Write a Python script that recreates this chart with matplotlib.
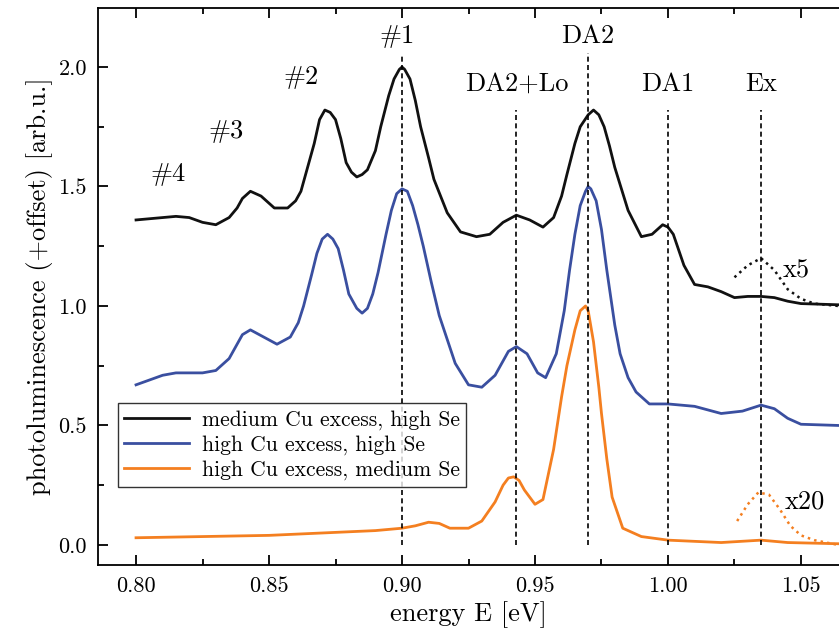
import matplotlib
matplotlib.use("Agg")
import matplotlib.pyplot as plt
from matplotlib.ticker import MultipleLocator

plt.rcParams['font.family'] = 'serif'
plt.rcParams['font.serif'] = ['cmr10', 'DejaVu Serif']
plt.rcParams['axes.formatter.use_mathtext'] = True
plt.rcParams['mathtext.fontset'] = 'cm'

black_x = [0.80,0.81,0.815,0.82,0.825,0.83,0.835,0.838,0.84,0.843,0.847,0.850,0.852,0.857,0.860,0.862,0.865,0.867,0.869,0.871,0.873,0.875,0.877,0.879,0.881,0.883,0.885,0.887,0.890,0.892,0.895,0.897,0.899,0.900,0.901,0.903,0.905,0.907,0.910,0.912,0.917,0.922,0.928,0.933,0.938,0.943,0.948,0.953,0.957,0.960,0.962,0.965,0.967,0.970,0.972,0.974,0.976,0.978,0.980,0.985,0.990,0.994,0.998,1.000,1.002,1.006,1.010,1.015,1.020,1.025,1.030,1.035,1.040,1.045,1.050,1.064]
black_y = [1.36,1.37,1.375,1.37,1.35,1.34,1.37,1.41,1.45,1.48,1.46,1.43,1.41,1.41,1.44,1.48,1.60,1.68,1.78,1.82,1.81,1.78,1.70,1.60,1.56,1.54,1.55,1.57,1.65,1.75,1.88,1.95,1.99,2.00,1.99,1.95,1.86,1.75,1.62,1.53,1.39,1.31,1.29,1.30,1.35,1.38,1.36,1.33,1.37,1.46,1.55,1.68,1.75,1.80,1.82,1.80,1.75,1.67,1.58,1.40,1.29,1.30,1.34,1.33,1.30,1.17,1.09,1.08,1.06,1.035,1.04,1.04,1.035,1.02,1.01,1.005]
black5_x = [1.025,1.030,1.035,1.040,1.045,1.050,1.055,1.064]
black5_y = [1.12,1.17,1.20,1.15,1.07,1.03,1.01,1.0]

blue_x = [0.80,0.805,0.81,0.815,0.825,0.83,0.835,0.84,0.843,0.848,0.853,0.858,0.861,0.863,0.866,0.868,0.870,0.872,0.874,0.876,0.878,0.880,0.883,0.885,0.887,0.889,0.891,0.894,0.896,0.898,0.900,0.902,0.904,0.906,0.908,0.911,0.914,0.920,0.925,0.930,0.935,0.940,0.943,0.947,0.951,0.954,0.958,0.961,0.963,0.965,0.967,0.969,0.970,0.971,0.973,0.975,0.977,0.980,0.982,0.985,0.988,0.993,1.000,1.010,1.020,1.028,1.035,1.040,1.045,1.050,1.064]
blue_y = [0.67,0.69,0.71,0.72,0.72,0.73,0.78,0.88,0.90,0.87,0.84,0.87,0.93,1.00,1.13,1.22,1.28,1.30,1.28,1.24,1.15,1.05,0.99,0.97,0.99,1.05,1.14,1.30,1.40,1.47,1.49,1.48,1.42,1.34,1.25,1.10,0.96,0.76,0.67,0.66,0.71,0.81,0.83,0.80,0.72,0.70,0.80,0.98,1.15,1.30,1.42,1.48,1.50,1.49,1.44,1.32,1.15,0.92,0.80,0.70,0.64,0.59,0.59,0.58,0.55,0.56,0.585,0.57,0.53,0.505,0.50]

orange_x = [0.80,0.85,0.87,0.89,0.90,0.905,0.910,0.914,0.918,0.925,0.930,0.935,0.938,0.940,0.942,0.944,0.946,0.950,0.953,0.957,0.960,0.962,0.965,0.967,0.969,0.970,0.972,0.974,0.975,0.977,0.979,0.983,0.990,1.000,1.020,1.035,1.045,1.064]
orange_y = [0.03,0.04,0.05,0.06,0.07,0.08,0.095,0.09,0.07,0.07,0.10,0.18,0.25,0.28,0.285,0.27,0.23,0.17,0.19,0.40,0.62,0.75,0.90,0.98,1.0,0.98,0.85,0.66,0.55,0.36,0.20,0.07,0.035,0.02,0.01,0.02,0.01,0.005]
orange20_x = [1.026,1.030,1.034,1.038,1.042,1.046,1.050,1.055,1.064]
orange20_y = [0.10,0.17,0.22,0.21,0.15,0.08,0.04,0.02,0.0]

line_x = [0.900,0.943,0.970,1.000,1.035]
line_top = [2.05,1.82,2.06,1.82,1.82]
peak_labels = ['#4','#3','#2','#1','DA2+Lo','DA2','DA1','Ex']
peak_lx = [0.812,0.834,0.862,0.898,0.943,0.970,1.000,1.035]
peak_ly = [1.50,1.68,1.91,2.08,1.88,2.08,1.88,1.88]

fig = plt.figure(figsize=(8.39,6.42), dpi=100)
ax = fig.add_axes([98/839, 77/642, 741/839, 557/642])
ax.plot(black_x, black_y, color='#111111', lw=2, label='medium Cu excess, high Se')
ax.plot(blue_x, blue_y, color='#3a4fa0', lw=2, label='high Cu excess, high Se')
ax.plot(orange_x, orange_y, color='#f47f20', lw=2, label='high Cu excess, medium Se')
ax.plot(black5_x, black5_y, color='#111111', lw=1.8, ls=':')
ax.plot(orange20_x, orange20_y, color='#f47f20', lw=1.8, ls=':')
for x, t in zip(line_x, line_top):
    ax.plot([x, x], [0, t], color='black', lw=1.2, ls=(0, (3, 2)))
for s, x, y in zip(peak_labels, peak_lx, peak_ly):
    ax.text(x, y, s, ha='center', va='bottom', fontsize=19)
ax.text(1.043, 1.10, 'x5', fontsize=19, va='bottom')
ax.text(1.044, 0.13, 'x20', fontsize=19, va='bottom')

ax.set_xlim(0.7857, 1.0643)
ax.set_ylim(-0.084, 2.247)
ax.xaxis.set_major_locator(MultipleLocator(0.05))
ax.xaxis.set_minor_locator(MultipleLocator(0.025))
ax.yaxis.set_major_locator(MultipleLocator(0.5))
ax.yaxis.set_minor_locator(MultipleLocator(0.25))
ax.xaxis.set_major_formatter(plt.FuncFormatter(lambda v, p: f'{v:.2f}'))
ax.yaxis.set_major_formatter(plt.FuncFormatter(lambda v, p: f'{v:.1f}'))
ax.tick_params(direction='in', which='both', labelsize=16, width=1.3, top=True, pad=8)
ax.tick_params(which='major', length=7)
ax.tick_params(which='minor', length=4)
ax.spines['right'].set_visible(False)
for s in ['left','bottom','top']:
    ax.spines[s].set_linewidth(1.3)
ax.set_xlabel('energy E [eV]', fontsize=19)
ax.set_ylabel('photoluminescence (+offset) [arb.u.]', fontsize=19)
leg = ax.legend(loc='upper left', bbox_to_anchor=(0.027, 0.29), fontsize=15.5,
                frameon=True, fancybox=False, edgecolor='black', handlelength=3.0,
                borderpad=0.3, labelspacing=0.25, handletextpad=0.6, borderaxespad=0)
leg.get_frame().set_linewidth(1)
fig.savefig('out.png', dpi=100)
